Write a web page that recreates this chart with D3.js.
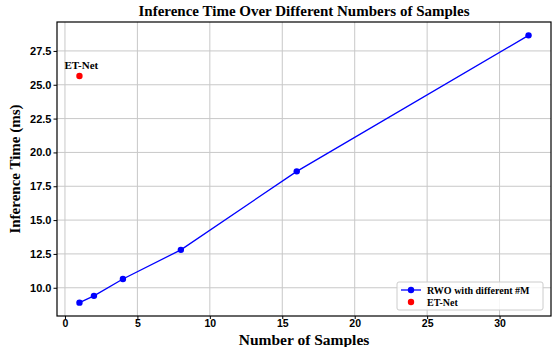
<!DOCTYPE html>
<html>
<head>
<meta charset="utf-8">
<script src="https://cdn.jsdelivr.net/npm/d3@7"></script>
<style>
  body { margin: 0; background: #fff; }
  svg { font-family: "Liberation Serif", "Times New Roman", serif; font-weight: bold; }
</style>
</head>
<body>
<div id="chart"></div>
<script>
// data
const samples = [1, 2, 4, 8, 16, 32];
const rwoTimes = [8.9, 9.4, 10.65, 12.8, 18.6, 28.65];
const etNet = [{ x: 1, y: 25.65, label: 'ET-Net' }];
const xTicks = [0, 5, 10, 15, 20, 25, 30];
const yTicks = [10.0, 12.5, 15.0, 17.5, 20.0, 22.5, 25.0, 27.5];

const width = 555, height = 347;
const margin = { top: 22, right: 4, bottom: 31, left: 57 };

const svg = d3.select('#chart').append('svg')
  .attr('width', width)
  .attr('height', height);

// matplotlib-like 5% padding
const xmin = 1, xmax = 32, ymin = d3.min(rwoTimes), ymax = d3.max(rwoTimes);
const xpad = (xmax - xmin) * 0.05, ypad = (ymax - ymin) * 0.05;

const x = d3.scaleLinear()
  .domain([xmin - xpad, xmax + xpad])
  .range([margin.left, width - margin.right]);
const y = d3.scaleLinear()
  .domain([ymin - ypad, ymax + ypad])
  .range([height - margin.bottom, margin.top]);

// grid
const grid = svg.append('g').attr('stroke', '#c8c8c8').attr('stroke-width', 1);
grid.selectAll('.gx').data(xTicks).join('line')
  .attr('x1', d => x(d)).attr('x2', d => x(d))
  .attr('y1', margin.top).attr('y2', height - margin.bottom);
grid.selectAll('.gy').data(yTicks).join('line')
  .attr('y1', d => y(d)).attr('y2', d => y(d))
  .attr('x1', margin.left).attr('x2', width - margin.right);

// axes
svg.append('g')
  .attr('transform', `translate(0,${height - margin.bottom})`)
  .call(d3.axisBottom(x).tickValues(xTicks).tickSize(3).tickPadding(1).tickFormat(d3.format('d')))
  .call(g => g.select('.domain').remove())
  .call(g => g.selectAll('text').attr('font-size', 10.5).attr('font-family', null).attr('fill', '#000'));

svg.append('g')
  .attr('transform', `translate(${margin.left},0)`)
  .call(d3.axisLeft(y).tickValues(yTicks).tickSize(3.5).tickPadding(2).tickFormat(d3.format('.1f')))
  .call(g => g.select('.domain').remove())
  .call(g => g.selectAll('text').attr('font-size', 11).attr('font-family', null).attr('fill', '#000'));

// frame
svg.append('rect')
  .attr('x', margin.left).attr('y', margin.top)
  .attr('width', width - margin.left - margin.right)
  .attr('height', height - margin.top - margin.bottom)
  .attr('fill', 'none').attr('stroke', '#000').attr('stroke-width', 1.2);

// RWO line
const pts = samples.map((s, i) => ({ x: s, y: rwoTimes[i] }));
svg.append('path')
  .datum(pts)
  .attr('fill', 'none')
  .attr('stroke', '#0000ff')
  .attr('stroke-width', 1.3)
  .attr('d', d3.line().x(d => x(d.x)).y(d => y(d.y)));
svg.selectAll('.pt').data(pts).join('circle')
  .attr('cx', d => x(d.x)).attr('cy', d => y(d.y))
  .attr('r', 3.2).attr('fill', '#0000ff');

// ET-Net point
svg.selectAll('.et').data(etNet).join('circle')
  .attr('cx', d => x(d.x)).attr('cy', d => y(d.y))
  .attr('r', 3.2).attr('fill', '#ff0000');
svg.selectAll('.etl').data(etNet).join('text')
  .attr('x', d => x(d.x) - 15).attr('y', d => y(d.y) - 7)
  .attr('font-size', 11)
  .text(d => d.label);

// title & labels
svg.append('text')
  .attr('x', (margin.left + width - margin.right) / 2).attr('y', 16)
  .attr('text-anchor', 'middle').attr('font-size', 15)
  .text('Inference Time Over Different Numbers of Samples');
svg.append('text')
  .attr('x', (margin.left + width - margin.right) / 2).attr('y', 344.5)
  .attr('text-anchor', 'middle').attr('font-size', 15.5)
  .text('Number of Samples');
svg.append('text')
  .attr('transform', `translate(20,${(margin.top + height - margin.bottom) / 2}) rotate(-90)`)
  .attr('text-anchor', 'middle').attr('font-size', 15)
  .text('Inference Time (ms)');

// legend
const lg = svg.append('g').attr('transform', 'translate(397,282)');
lg.append('rect').attr('width', 146).attr('height', 28).attr('rx', 2)
  .attr('fill', '#fff').attr('fill-opacity', 0.85).attr('stroke', '#ccc');
lg.append('line').attr('x1', 4).attr('x2', 24).attr('y1', 8).attr('y2', 8)
  .attr('stroke', '#0000ff').attr('stroke-width', 1.3);
lg.append('circle').attr('cx', 14).attr('cy', 8).attr('r', 3.2).attr('fill', '#0000ff');
lg.append('text').attr('x', 30).attr('y', 11.5).attr('font-size', 10).text('RWO with different #M');
lg.append('circle').attr('cx', 14).attr('cy', 20).attr('r', 3.2).attr('fill', '#ff0000');
lg.append('text').attr('x', 30).attr('y', 23.5).attr('font-size', 10).text('ET-Net');
</script>
</body>
</html>
